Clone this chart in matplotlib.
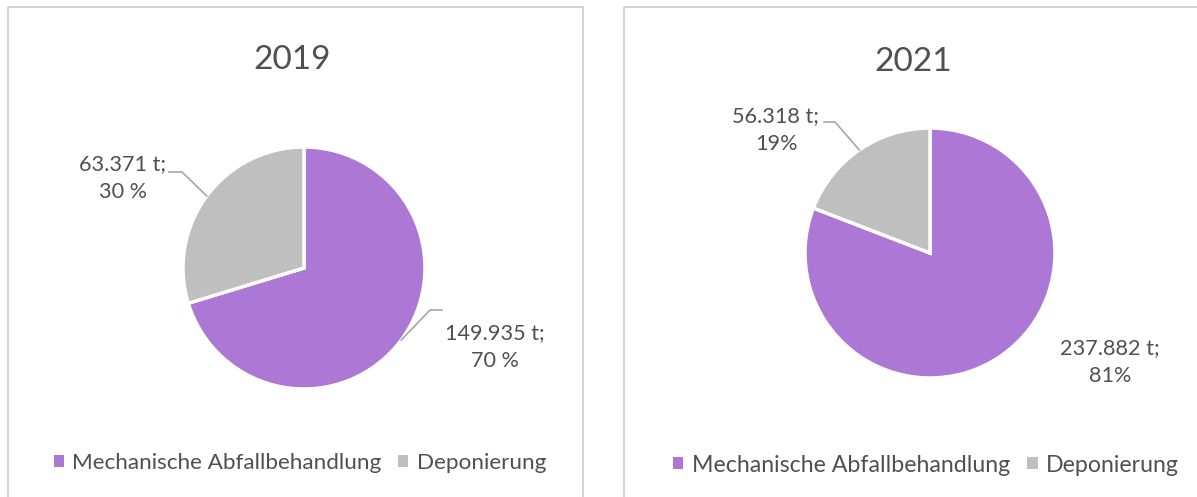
import matplotlib
matplotlib.use("Agg")
import numpy as np
import matplotlib.pyplot as plt
from matplotlib.lines import Line2D
from matplotlib.patches import Patch

# === DATEN ===
years = ["2019", "2021"]
categories = ["Mechanische Abfallbehandlung", "Deponierung"]
tonnes_2019 = [149935, 63371]
tonnes_2021 = [237882, 56318]
pct_2019 = ["70 %", "30 %"]
pct_2021 = ["81%", "19%"]

PURPLE = "#AD77D6"
GRAY = "#BFBFBF"
TEXT = "#505050"
BORDER = "#CCCCCC"

W, H = 1197, 497
plt.rcParams["font.family"] = ["Lato", "DejaVu Sans"]

fig = plt.figure(figsize=(W / 100, H / 100), dpi=100)


def fx(px):
    return px / W


def fy(py):
    return 1 - py / H


# Layout in Pixeln (Bezug: Referenzbild)
panels = [
    dict(center=(304, 268), r=121, title=(292, 60), legend=(300, 463), fs=16.2,
         label_pos=[(495, 347), (123, 178)],
         leaders=[[(430, 310), (442, 310)], [(182, 172), (169, 172)]]),
    dict(center=(930, 253), r=125, title=(913, 62), legend=(926, 465), fs=16.7,
         label_pos=[(1110, 362), (776, 130)],
         leaders=[None, [(835, 122), (824, 122)]]),
]
series = [tonnes_2019, tonnes_2021]
pcts = [pct_2019, pct_2021]

for year, vals, pct, lay in zip(years, series, pcts, panels):
    cx, cy = lay["center"]
    r = lay["r"]
    ax = fig.add_axes([fx(cx - r), fy(cy + r), 2 * r / W, 2 * r / H])
    wedges, _ = ax.pie(vals, colors=[PURPLE, GRAY], startangle=90, counterclock=False,
                       radius=1, wedgeprops=dict(edgecolor="white", linewidth=2.5))
    ax.set_xlim(-1, 1)
    ax.set_ylim(-1, 1)
    ax.axis("off")

    def to_data(p):
        return ((p[0] - cx) / r, (cy - p[1]) / r)

    for w, v, p, pos, leader in zip(wedges, vals, pct, lay["label_pos"], lay["leaders"]):
        txt = f"{v:,}".replace(",", ".") + " t;\n" + p
        tx, ty = to_data(pos)
        ax.text(tx, ty, txt, ha="center", va="center", fontsize=15.6,
                color=TEXT, linespacing=1.5)
        if leader is not None:
            mid = np.deg2rad((w.theta1 + w.theta2) / 2)
            xs = [np.cos(mid)] + [to_data(q)[0] for q in leader]
            ys = [np.sin(mid)] + [to_data(q)[1] for q in leader]
            ax.plot(xs, ys, color="#A6A6A6", lw=1.2, clip_on=False)

    fig.text(fx(lay["title"][0]), fy(lay["title"][1]), year, ha="center", va="center",
             fontsize=24, color=TEXT)

    handles = [Patch(facecolor=c, edgecolor="none") for c in (PURPLE, GRAY)]
    lx, ly = lay["legend"]
    fig.legend(handles, categories, loc="center", bbox_to_anchor=(fx(lx), fy(ly)),
               ncol=2, frameon=False, fontsize=lay["fs"], labelcolor=TEXT,
               handlelength=0.44, handleheight=0.42, handletextpad=0.38,
               columnspacing=0.75, borderaxespad=0, borderpad=0)

# Rahmen der beiden Diagrammflächen
fig.add_artist(Line2D([fx(8), fx(8), fx(583), fx(583)], [fy(H + 2), fy(7), fy(7), fy(H + 2)],
                      color=BORDER, lw=1.2))
fig.add_artist(Line2D([fx(624), fx(624), fx(W + 2)], [fy(H + 2), fy(7), fy(7)],
                      color=BORDER, lw=1.2))

fig.savefig("out.png", dpi=100)
